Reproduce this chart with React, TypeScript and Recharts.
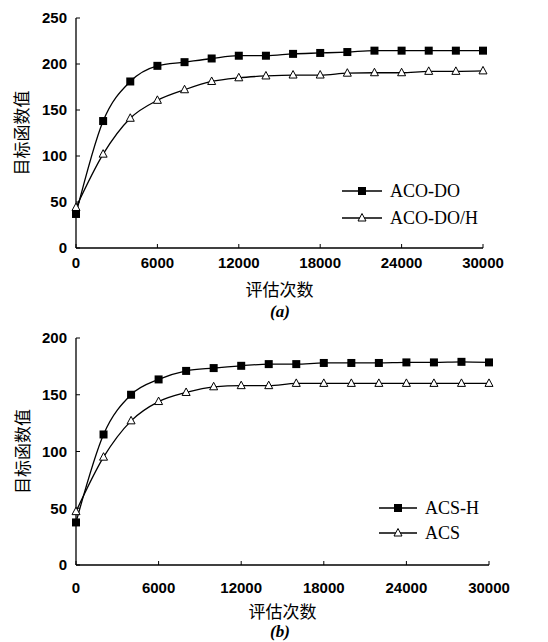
import { LineChart, Line, XAxis, YAxis, Legend } from 'recharts';

const evals = [0, 2000, 4000, 6000, 8000, 10000, 12000, 14000, 16000, 18000, 20000, 22000, 24000, 26000, 28000, 30000];

const acoDo = [37, 138, 181, 198, 202, 206, 209, 209, 211, 212, 213, 214.5, 214.5, 214.5, 214.5, 214.5];
const acoDoH = [44, 102, 141, 160.5, 172, 181, 185, 187, 188, 188, 190, 190.5, 190.5, 192, 192, 192.5];

const acsH = [37.5, 115, 150, 163.5, 171, 173.5, 175.5, 177, 177, 178, 178, 178, 178.5, 178.5, 179, 178.5];
const acs = [47, 95, 127, 144, 152, 157, 158, 158, 160, 160, 160, 160, 160, 160, 160, 160];

const xTicks = [0, 6000, 12000, 18000, 24000, 30000];
const yTicksA = [0, 50, 100, 150, 200, 250];
const yTicksB = [0, 50, 100, 150, 200];

const dataA = evals.map((x, i) => ({ x, acoDo: acoDo[i], acoDoH: acoDoH[i] }));
const dataB = evals.map((x, i) => ({ x, acsH: acsH[i], acs: acs[i] }));

const sans = '"Liberation Sans", Arial, sans-serif';
const serif = '"Liberation Serif", "Times New Roman", serif';
const cjk = '"Noto Sans CJK SC", sans-serif';

const tickStyle = { fill: '#000', fontSize: 15, fontWeight: 'bold', fontFamily: sans };

const SquareDot = (props: any) => {
  const { cx, cy } = props;
  if (cx == null || cy == null) return null;
  return <rect x={cx - 4} y={cy - 4} width={8} height={8} fill="#000" />;
};

const TriangleDot = (props: any) => {
  const { cx, cy } = props;
  if (cx == null || cy == null) return null;
  return (
    <polygon
      points={`${cx},${cy - 4.5} ${cx - 4},${cy + 3} ${cx + 4},${cy + 3}`}
      fill="#fff"
      stroke="#000"
      strokeWidth={1}
    />
  );
};

const isSquare = (key: string) => key === 'acoDo' || key === 'acsH';

const makeLegend = (lineW: number, gap: number, rowH: number) => (props: any) => {
  const items = [...(props.payload || [])].sort(
    (a: any, b: any) => (isSquare(b.dataKey) ? 1 : 0) - (isSquare(a.dataKey) ? 1 : 0)
  );
  return (
    <div>
      {items.map((p: any) => (
        <div key={p.value} style={{ display: 'flex', alignItems: 'center', height: rowH }}>
          <svg width={lineW} height={12} style={{ display: 'block' }}>
            <line x1={0} y1={6} x2={lineW} y2={6} stroke="#000" strokeWidth={1.3} />
            {isSquare(p.dataKey) ? (
              <rect x={lineW / 2 - 4} y={2} width={8} height={8} fill="#000" />
            ) : (
              <polygon
                points={`${lineW / 2},${1.5} ${lineW / 2 - 4},${9} ${lineW / 2 + 4},${9}`}
                fill="#fff"
                stroke="#000"
              />
            )}
          </svg>
          <span style={{ marginLeft: gap, fontFamily: serif, fontSize: 18, color: '#000', lineHeight: 1 }}>
            {p.value}
          </span>
        </div>
      ))}
    </div>
  );
};

const Caption = ({ text, top }: { text: string; top: number }) => (
  <div
    style={{
      position: 'absolute',
      top,
      left: 0,
      width: 560,
      textAlign: 'center',
      fontFamily: serif,
      fontStyle: 'italic',
      fontWeight: 'bold',
      fontSize: 17,
      color: '#000',
      lineHeight: '20px',
    }}
  >
    {text}
  </div>
);

export default function App() {
  return (
    <div style={{ position: 'absolute', left: 0, top: 0, width: 548, height: 642, background: '#fff' }}>
      <div style={{ position: 'absolute', left: 0, top: 0 }}>
        <LineChart width={548} height={300} data={dataA} margin={{ top: 18, right: 65, bottom: 0, left: 16 }}>
          <XAxis
            dataKey="x"
            type="number"
            domain={[0, 30000]}
            ticks={xTicks}
            tick={tickStyle}
            tickSize={-4}
            tickMargin={13}
            axisLine={{ stroke: '#000', strokeWidth: 1.3 }}
            tickLine={{ stroke: '#000' }}
            height={52}
            label={{ value: '评估次数', position: 'insideBottom', offset: 4, fill: '#000', fontSize: 17, fontFamily: cjk }}
          />
          <YAxis
            type="number"
            domain={[0, 250]}
            ticks={yTicksA}
            tick={tickStyle}
            tickSize={-4}
            tickMargin={13}
            width={60}
            axisLine={{ stroke: '#000', strokeWidth: 1.3 }}
            tickLine={{ stroke: '#000' }}
            label={{ value: '目标函数值', angle: -90, position: 'insideLeft', offset: 6, fill: '#000', fontSize: 17, fontFamily: cjk, style: { textAnchor: 'middle' } }}
          />
          <Legend
            layout="vertical"
            align="center"
            verticalAlign="middle"
            content={makeLegend(40, 8, 27)}
            wrapperStyle={{ left: 342, top: 177, width: 180 }}
          />
          <Line dataKey="acoDoH" name="ACO-DO/H" type="monotone" stroke="#000" strokeWidth={1.3} dot={<TriangleDot />} activeDot={false} isAnimationActive={false} />
          <Line dataKey="acoDo" name="ACO-DO" type="monotone" stroke="#000" strokeWidth={1.3} dot={<SquareDot />} activeDot={false} isAnimationActive={false} />
        </LineChart>
      </div>
      <Caption text="(a)" top={302} />
      <div style={{ position: 'absolute', left: 0, top: 320 }}>
        <LineChart width={548} height={302} data={dataB} margin={{ top: 18, right: 59, bottom: 0, left: 16 }}>
          <XAxis
            dataKey="x"
            type="number"
            domain={[0, 30000]}
            ticks={xTicks}
            tick={tickStyle}
            tickSize={-4}
            tickMargin={21}
            axisLine={{ stroke: '#000', strokeWidth: 1.3 }}
            tickLine={{ stroke: '#000' }}
            height={57}
            label={{ value: '评估次数', position: 'insideBottom', offset: 4, fill: '#000', fontSize: 17, fontFamily: cjk }}
          />
          <YAxis
            type="number"
            domain={[0, 200]}
            ticks={yTicksB}
            tick={tickStyle}
            tickSize={-4}
            tickMargin={13}
            width={60}
            axisLine={{ stroke: '#000', strokeWidth: 1.3 }}
            tickLine={{ stroke: '#000' }}
            label={{ value: '目标函数值', angle: -90, position: 'insideLeft', offset: 7, fill: '#000', fontSize: 17, fontFamily: cjk, style: { textAnchor: 'middle' } }}
          />
          <Legend
            layout="vertical"
            align="center"
            verticalAlign="middle"
            content={makeLegend(38, 8, 25)}
            wrapperStyle={{ left: 379, top: 175, width: 160 }}
          />
          <Line dataKey="acs" name="ACS" type="monotone" stroke="#000" strokeWidth={1.3} dot={<TriangleDot />} activeDot={false} isAnimationActive={false} />
          <Line dataKey="acsH" name="ACS-H" type="monotone" stroke="#000" strokeWidth={1.3} dot={<SquareDot />} activeDot={false} isAnimationActive={false} />
        </LineChart>
      </div>
      <Caption text="(b)" top={622} />
    </div>
  );
}
